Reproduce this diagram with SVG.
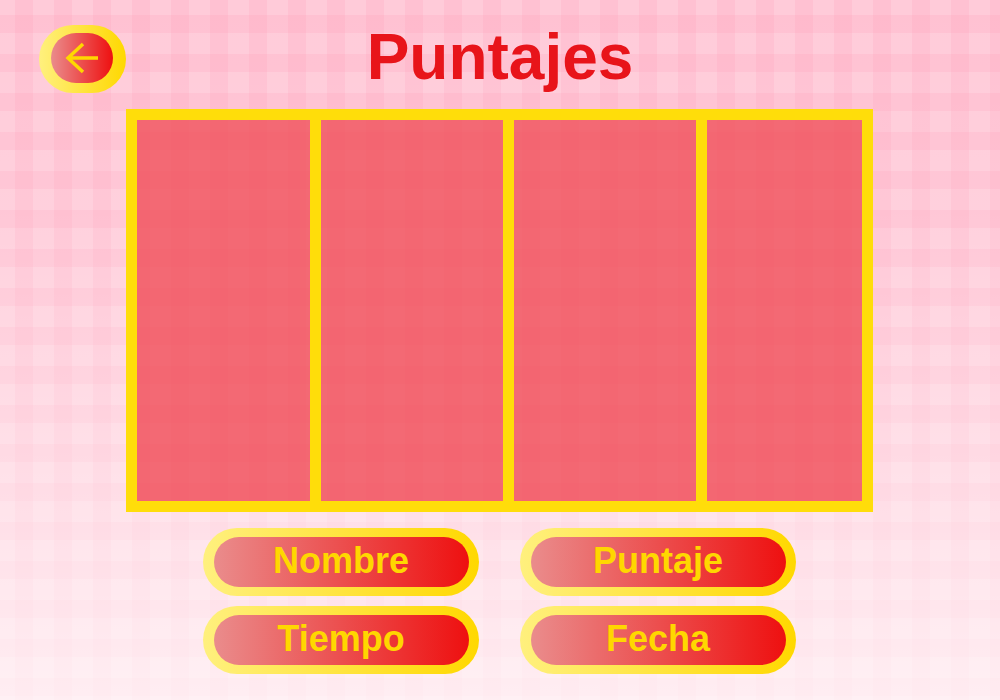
<svg xmlns="http://www.w3.org/2000/svg" width="1000" height="700" viewBox="0 0 1000 700">
  <defs>
    <pattern id="gingham" patternUnits="userSpaceOnUse" x="15" y="15" width="39" height="39">
      <rect width="39" height="39" fill="#ffcbd9"/>
      <rect x="0" y="0" width="18" height="39" fill="#ff96af" fill-opacity="0.18"/>
      <rect x="0" y="0" width="39" height="18" fill="#ff96af" fill-opacity="0.18"/>
    </pattern>
    <linearGradient id="fade" x1="0" y1="0" x2="0" y2="1">
      <stop offset="0" stop-color="#ffffff" stop-opacity="0"/>
      <stop offset="0.3" stop-color="#ffffff" stop-opacity="0.1"/>
      <stop offset="1" stop-color="#ffffff" stop-opacity="0.72"/>
    </linearGradient>
    <linearGradient id="gold" x1="0" y1="0" x2="1" y2="0">
      <stop offset="0" stop-color="#fff07e"/>
      <stop offset="1" stop-color="#ffd800"/>
    </linearGradient>
    <linearGradient id="redg" x1="0" y1="0" x2="1" y2="0">
      <stop offset="0" stop-color="#ea8c8c"/>
      <stop offset="1" stop-color="#ee1010"/>
    </linearGradient>
    <style>
      .cell-bg { fill: url(#gingham); }
      .cell { fill: #f0505a; fill-opacity: 0.8; }
      .frame { fill: #ffdd0a; }
      .btn-outer { fill: url(#gold); }
      .btn-inner { fill: url(#redg); }
      .btn-label { font-family: "Liberation Sans", Arial, sans-serif; font-weight: bold; font-size: 36px; fill: #ffd700; text-anchor: middle; }
      .title { font-family: "Liberation Sans", Arial, sans-serif; font-weight: bold; font-size: 64px; fill: #e8141a; text-anchor: middle; }
    </style>
  </defs>

  <g id="background">
    <rect width="1000" height="700" fill="url(#gingham)"/>
    <rect width="1000" height="700" fill="url(#fade)"/>
  </g>

  <g id="back-button">
    <rect x="39" y="25" width="87" height="68" rx="34" ry="34" class="btn-outer"/>
    <rect x="51" y="33" width="62" height="50" rx="25" ry="25" class="btn-inner"/>
    <path d="M83 44 L68 58 L83 72 M68 58 L98 58" fill="none" stroke="#ffd700" stroke-width="3.5" stroke-linecap="butt" stroke-linejoin="miter"/>
  </g>

  <g id="title">
    <text x="500" y="79" class="title">Puntajes</text>
  </g>

  <g id="score-table">
    <rect x="126" y="109" width="747" height="403" class="frame"/>
    <rect x="137" y="120" width="173" height="381" class="cell-bg"/>
    <rect x="321" y="120" width="182" height="381" class="cell-bg"/>
    <rect x="514" y="120" width="182" height="381" class="cell-bg"/>
    <rect x="707" y="120" width="155" height="381" class="cell-bg"/>
    <rect x="137" y="120" width="173" height="381" class="cell"/>
    <rect x="321" y="120" width="182" height="381" class="cell"/>
    <rect x="514" y="120" width="182" height="381" class="cell"/>
    <rect x="707" y="120" width="155" height="381" class="cell"/>
  </g>

  <g id="btn-nombre">
    <rect x="203" y="528" width="276" height="68" rx="34" ry="34" class="btn-outer"/>
    <rect x="214" y="537" width="255" height="50" rx="25" ry="25" class="btn-inner"/>
    <text x="341" y="573" class="btn-label">Nombre</text>
  </g>

  <g id="btn-puntaje">
    <rect x="520" y="528" width="276" height="68" rx="34" ry="34" class="btn-outer"/>
    <rect x="531" y="537" width="255" height="50" rx="25" ry="25" class="btn-inner"/>
    <text x="658" y="573" class="btn-label">Puntaje</text>
  </g>

  <g id="btn-tiempo">
    <rect x="203" y="606" width="276" height="68" rx="34" ry="34" class="btn-outer"/>
    <rect x="214" y="615" width="255" height="50" rx="25" ry="25" class="btn-inner"/>
    <text x="341" y="651" class="btn-label">Tiempo</text>
  </g>

  <g id="btn-fecha">
    <rect x="520" y="606" width="276" height="68" rx="34" ry="34" class="btn-outer"/>
    <rect x="531" y="615" width="255" height="50" rx="25" ry="25" class="btn-inner"/>
    <text x="658" y="651" class="btn-label">Fecha</text>
  </g>

  <g id="connectors"/>
</svg>
